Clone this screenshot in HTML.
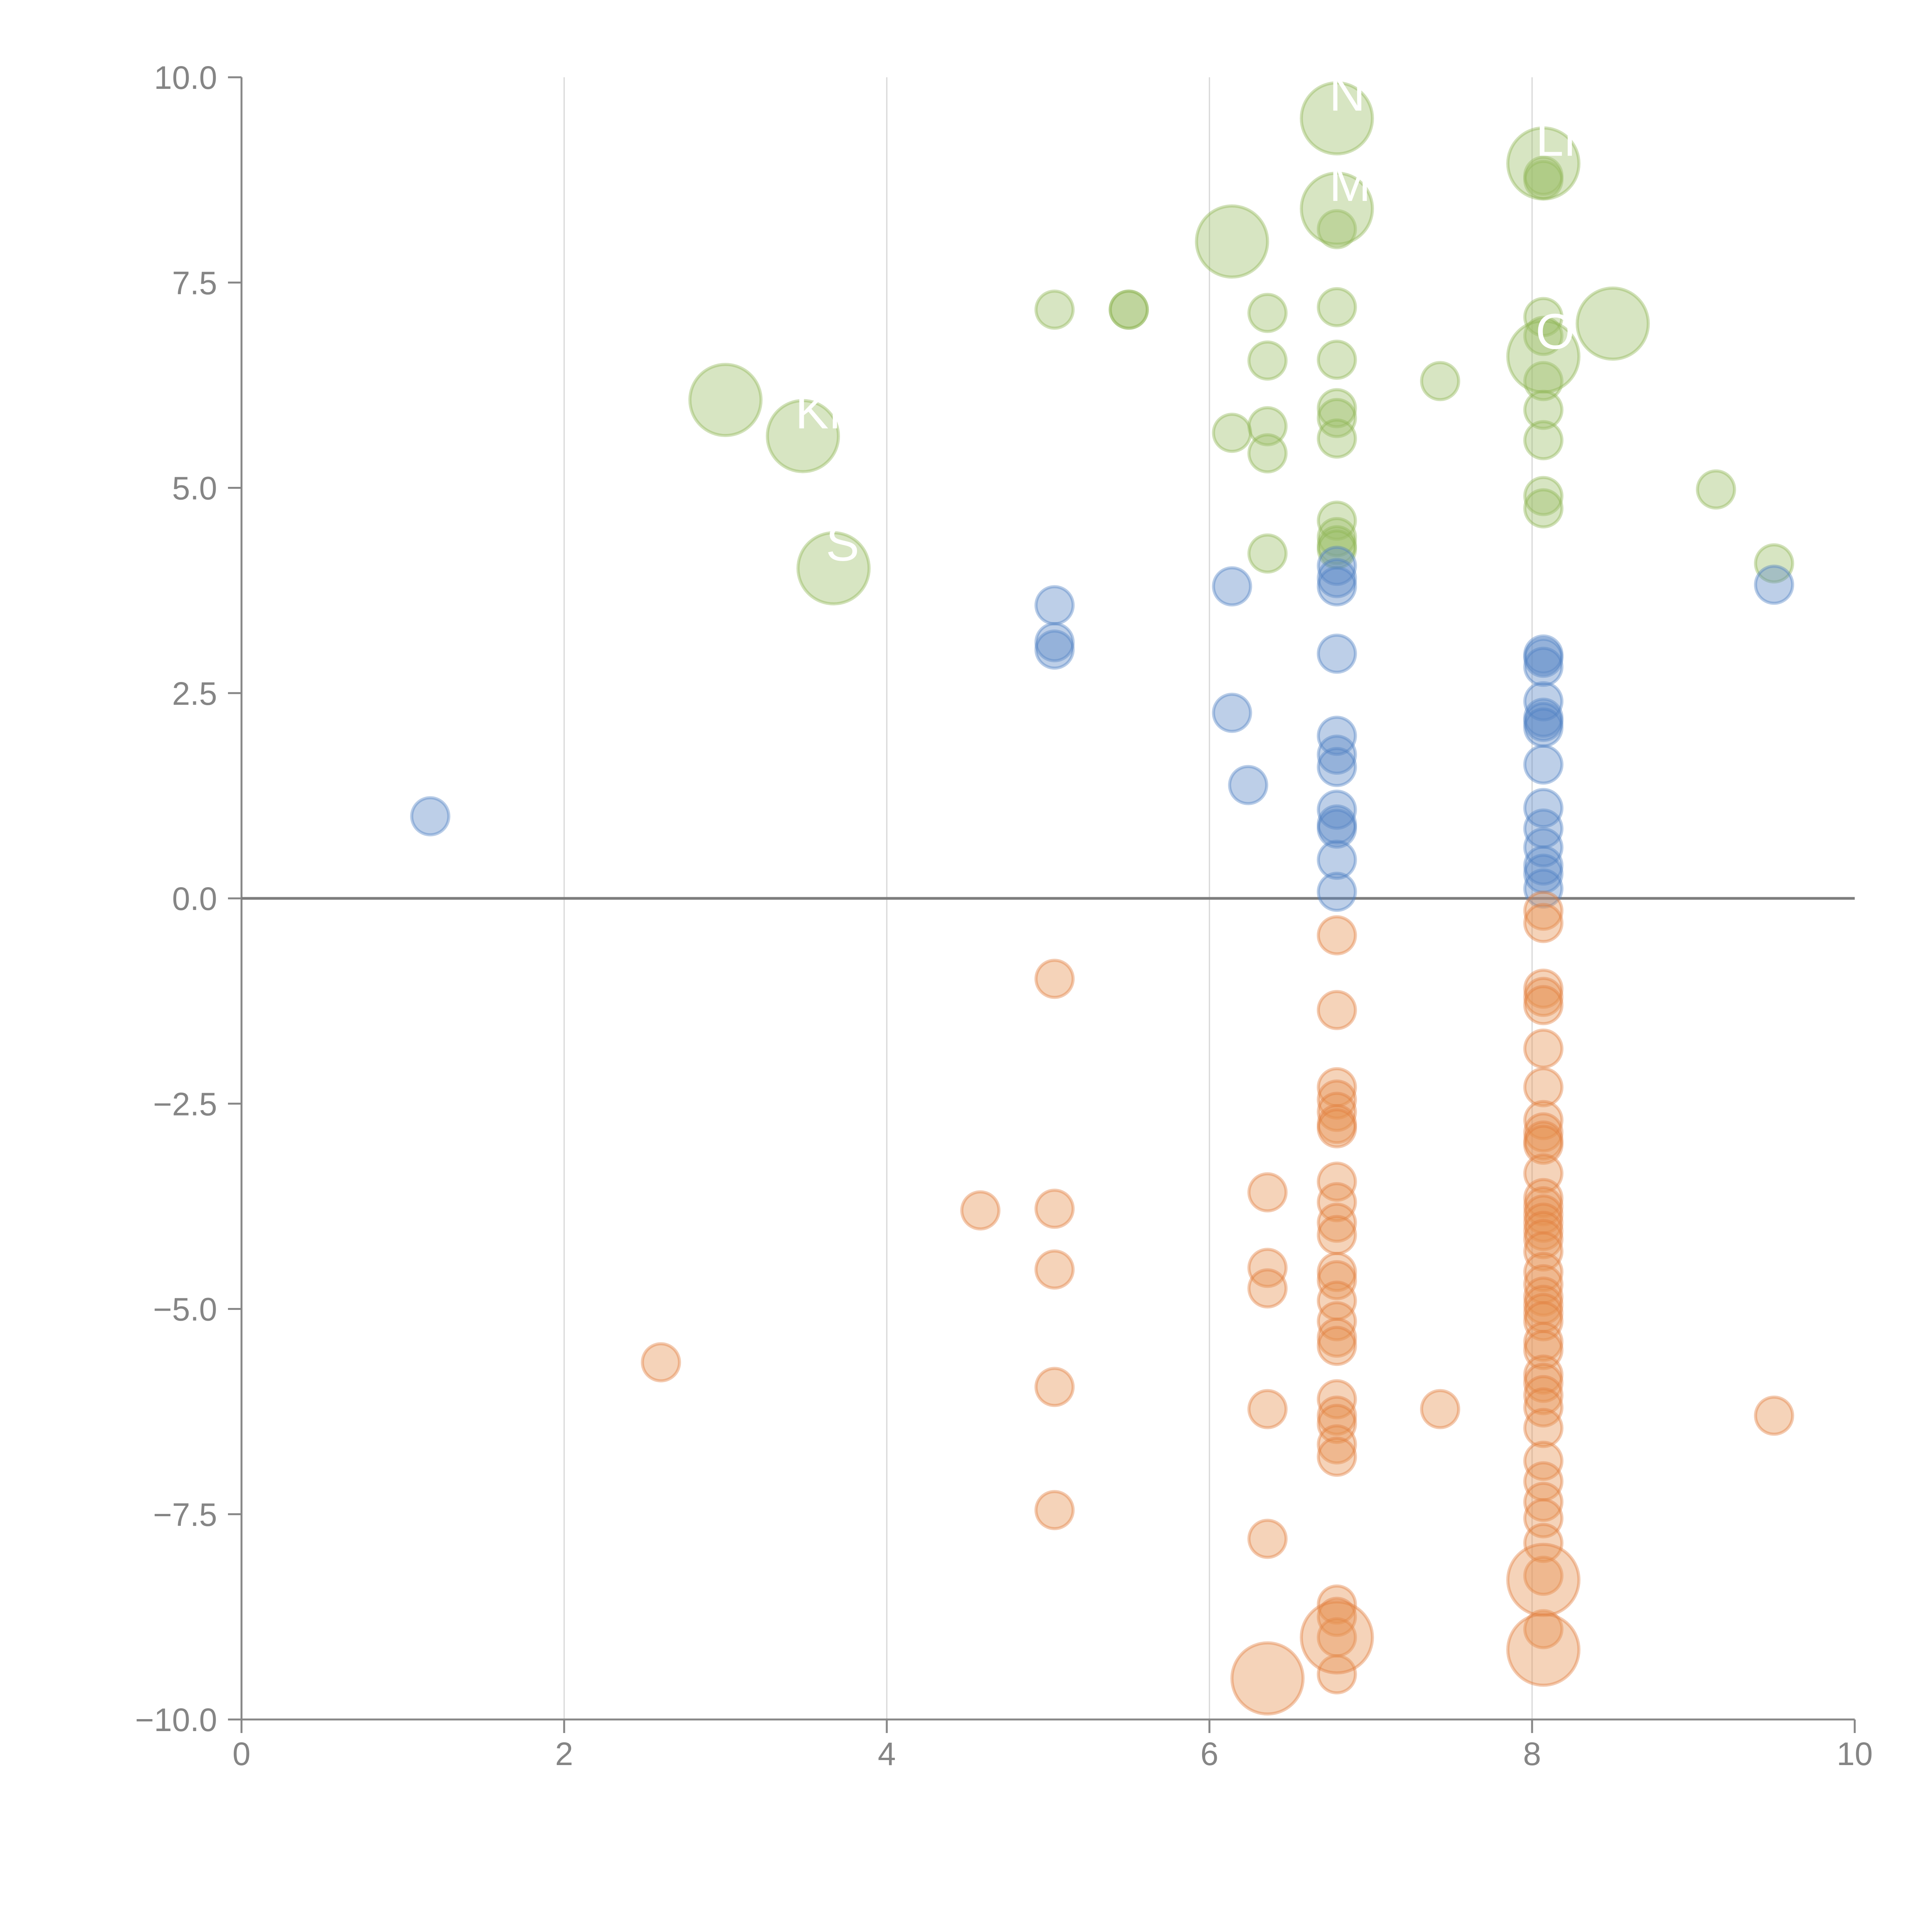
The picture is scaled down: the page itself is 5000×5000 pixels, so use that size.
<!DOCTYPE html>
<html><head><meta charset="utf-8"><style>
html,body{margin:0;padding:0;background:#fff;}
svg{display:block;font-family:"Liberation Sans",Arial,sans-serif;}
</style></head><body>
<svg id="chart" width="5000" height="5000" viewBox="0 0 5000 5000" xmlns="http://www.w3.org/2000/svg">
<g id="grid"></g>
<g id="axes"></g>
<g id="marks"></g>
<g id="labels"></g>
</svg>
<script>
const xTicks = [0, 2, 4, 6, 8, 10];
const yTicks = [-10, -7.5, -5, -2.5, 0, 2.5, 5, 7.5, 10];
const yTickLabels = ["\u221210.0","\u22127.5","\u22125.0","\u22122.5","0.0","2.5","5.0","7.5","10.0"];
const xTickLabels = ["0","2","4","6","8","10"];

const greenX = [5.04,5.5,5.5,6.36,6.36,6.36,6.36,6.36,6.14,6.79,6.79,6.79,6.79,6.79,6.79,6.79,6.79,6.79,6.79,7.43,8.07,8.07,8.07,8.07,8.07,8.07,8.07,8.07,8.07,9.14,9.5];
const greenY = [7.17,7.17,7.17,7.13,6.55,5.75,5.42,4.2,5.67,7.2,6.56,5.97,5.85,5.6,4.6,4.4,4.3,4.25,8.15,6.3,8.8,8.75,7.08,6.85,6.3,5.95,5.58,4.9,4.75,4.98,4.08];
const greenBigX = [6.79,8.07,6.79,6.14,8.5,8.07,3.0,3.48,3.67];
const greenBigY = [9.5,8.95,8.4,8.0,7.0,6.6,6.07,5.63,4.02];

const blueX = [1.17,5.04,5.04,5.04,6.14,6.14,6.24,6.79,6.79,6.79,6.79,6.79,6.79,6.79,6.79,6.79,6.79,6.79,6.79,8.07,8.07,8.07,8.07,8.07,8.07,8.07,8.07,8.07,8.07,8.07,8.07,8.07,8.07,9.5];
const blueY = [1.0,3.57,3.12,3.03,3.8,2.26,1.38,4.05,3.9,3.8,2.98,1.98,1.75,1.6,1.08,0.9,0.85,0.47,0.08,2.97,2.93,2.82,2.4,2.2,2.15,2.08,1.63,1.1,0.85,0.62,0.4,0.3,0.12,3.82];

const orangeX = [5.04,4.58,5.04,5.04,5.04,5.04,2.6,6.36,6.36,6.36,6.36,6.36,7.43,9.5,
 6.79,6.79,6.79,6.79,6.79,6.79,6.79,6.79,6.79,6.79,6.79,6.79,6.79,6.79,6.79,6.79,6.79,6.79,6.79,6.79,6.79,6.79,6.79,6.79,6.79,6.79,
 8.07,8.07,8.07,8.07,8.07,8.07,8.07,8.07,8.07,8.07,8.07,8.07,8.07,8.07,8.07,8.07,8.07,8.07,8.07,8.07,8.07,8.07,8.07,8.07,8.07,8.07,8.07,8.07,8.07,8.07,8.07,8.07,8.07,8.07,8.07,8.07,8.07,8.07,8.07];
const orangeY = [-0.98,-3.8,-3.78,-4.52,-5.95,-7.45,-5.65,-3.58,-4.5,-4.75,-6.22,-7.8,-6.22,-6.3,
 -0.45,-1.36,-2.3,-2.45,-2.6,-2.75,-2.8,-3.45,-3.7,-3.95,-4.1,-4.55,-4.65,-4.9,-5.15,-5.35,-5.45,-6.1,-6.3,-6.4,-6.65,-6.8,-8.6,-8.75,-9.0,-9.45,
 -0.15,-0.3,-1.1,-1.2,-1.3,-1.83,-2.3,-2.7,-2.85,-2.95,-3.0,-3.35,-3.65,-3.75,-3.85,-3.95,-4.05,-4.15,-4.3,-4.55,-4.7,-4.85,-4.95,-5.05,-5.15,-5.4,-5.5,-5.8,-5.9,-6.05,-6.2,-6.45,-6.85,-7.1,-7.35,-7.55,-7.85,-8.25,-8.9];
const orangeBigX = [8.07,6.79,8.07,6.36];
const orangeBigY = [-8.3,-9.0,-9.15,-9.5];

const NS = "http://www.w3.org/2000/svg";
const X0 = 625, X1 = 4800, Y0 = 4450, Y1 = 200;
function sx(v){ return X0 + (v - 0) / 10 * (X1 - X0); }
function sy(v){ return Y0 - (v + 10) / 20 * (Y0 - Y1); }
function mk(tag, attrs, parent){ const e = document.createElementNS(NS, tag); for (const k in attrs) e.setAttribute(k, attrs[k]); parent.appendChild(e); return e; }

const grid = document.getElementById('grid');
const axes = document.getElementById('axes');
const marks = document.getElementById('marks');
const labels = document.getElementById('labels');

xTicks.forEach((t, i) => {
  if (t > 0 && t < 10) {
    const g = mk('line', {x1: sx(t), x2: sx(t), y1: Y1, y2: Y0, stroke: '#d6d6d6', 'stroke-width': 3}, grid);
    
    
  }
  const tk = mk('line', {x1: sx(t), x2: sx(t), y1: Y0, y2: Y0 + 35, stroke: '#878787', 'stroke-width': 5}, axes);
  
  
  const tl = mk('text', {x: sx(t), y: 4568, 'text-anchor': 'middle', 'font-size': 84, fill: '#858585'}, axes);
  tl.textContent = xTickLabels[i];
  
  
});
yTicks.forEach((t, i) => {
  const tk = mk('line', {x1: X0 - 35, x2: X0, y1: sy(t), y2: sy(t), stroke: '#878787', 'stroke-width': 5}, axes);
  
  
  const tl = mk('text', {x: 562, y: sy(t) + 30, 'text-anchor': 'end', 'font-size': 84, fill: '#858585'}, axes);
  tl.textContent = yTickLabels[i];
  
  
});
const ya = mk('line', {x1: X0, x2: X0, y1: Y1, y2: Y0, stroke: '#878787', 'stroke-width': 5}, axes);


const xa = mk('line', {x1: X0, x2: X1, y1: Y0, y2: Y0, stroke: '#878787', 'stroke-width': 5}, axes);



function drawSeries(xs, ys, r, fill, stroke, name){
  xs.forEach((v, i) => {
    const c = mk('circle', {cx: sx(v), cy: sy(ys[i]), r: r, fill: fill, 'fill-opacity': 0.4, stroke: stroke, 'stroke-opacity': 0.4, 'stroke-width': 8}, marks);
    
    
  });
}
drawSeries(greenX, greenY, 48, '#9abf66', '#8db350', 'green-bubble');
drawSeries(greenBigX, greenBigY, 92, '#9abf66', '#8db350', 'green-large-bubble');
drawSeries(blueX, blueY, 48, '#5a86c5', '#4d7fc4', 'blue-bubble');
drawSeries(orangeX, orangeY, 48, '#e59150', '#e07b39', 'orange-bubble');
drawSeries(orangeBigX, orangeBigY, 92, '#e59150', '#e07b39', 'orange-large-bubble');

const zl = mk('line', {x1: X0, x2: X1, y1: sy(0), y2: sy(0), stroke: '#7d7d7d', 'stroke-width': 7}, axes);



const labelText = ["N","LM","M","","","O","","KN","S"];
greenBigX.forEach((v, i) => {
  if (!labelText[i]) return;
  const t = mk('text', {x: sx(v) - 20, y: sy(greenBigY[i]) - 20, 'font-size': 130, fill: '#ffffff'}, labels);
  t.textContent = labelText[i];
  
  
});
</script>
</body></html>
